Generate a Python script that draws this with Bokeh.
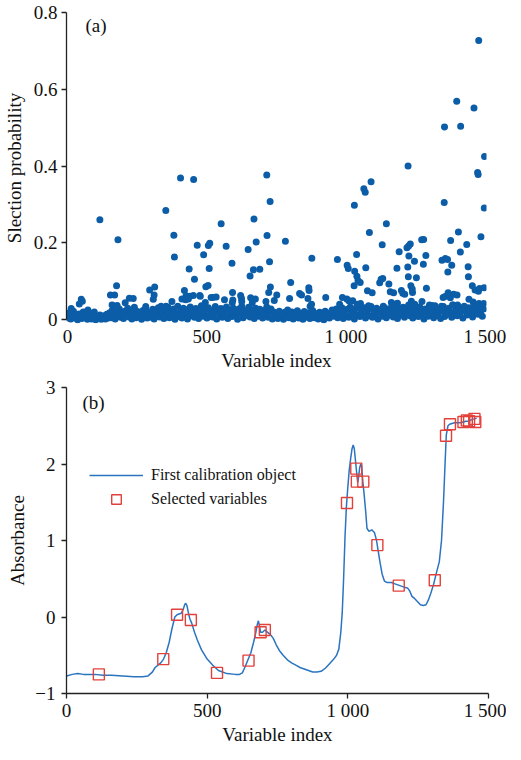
from bokeh.plotting import figure
from bokeh.layouts import column
from bokeh.models import FixedTicker, Range1d, Legend, LegendItem, Label, ColumnDataSource
from bokeh.embed import file_html
from bokeh.resources import INLINE

# ---------------- data: panel (a) ----------------
# clearly separated points (variable index, selection probability)
sel_idx = [13, 42, 49, 53, 73, 96, 116, 154, 169, 176, 160, 178, 181, 207, 222, 236, 240, 281,
           295, 313, 311, 308, 336, 354, 353,
           375, 382, 384, 406, 411, 420, 424, 426, 434, 437, 440, 453, 452, 456, 466, 475, 477,
           489, 495, 497, 505, 506, 509, 511, 516, 522, 534, 552, 564, 570, 591, 593, 594, 592,
           622, 625, 626, 649, 656, 658, 664, 668, 670, 675, 678, 691, 713, 716, 717, 723, 726,
           728, 729, 743, 752, 783,
           798, 802, 834, 841, 864, 867, 868, 872, 877, 878, 928, 970, 978, 988, 1004, 1005,
           1009, 1011, 1025, 1030, 1031, 1032, 1039, 1040, 1041, 1044, 1052, 1053, 1065, 1070,
           1072, 1078, 1082, 1085, 1091, 1095, 1122, 1127, 1131, 1133, 1135, 1146, 1155, 1160,
           1164, 1172, 1180, 1184, 1186, 1192,
           1200, 1205, 1212, 1220, 1224, 1226, 1223, 1225, 1227, 1232, 1234, 1236, 1239, 1240,
           1247, 1248, 1254, 1273, 1274, 1280, 1279, 1288, 1290, 1301, 1310, 1344, 1346, 1350,
           1354, 1355, 1357, 1358, 1366, 1367, 1368, 1376, 1377, 1381, 1384, 1388, 1399, 1400,
           1402, 1405, 1412, 1413, 1435, 1440, 1441, 1443, 1455, 1458, 1461, 1465, 1474, 1476,
           1477, 1479, 1478, 1481, 1486, 1497, 1498, 1499, 1496]
sel_prob = [0.029, 0.041, 0.053, 0.048, 0.025, 0.020, 0.260, 0.064, 0.064, 0.088, 0.038, 0.037, 0.208,
            0.044, 0.056, 0.055, 0.032, 0.034,
            0.077, 0.085, 0.064, 0.053, 0.035, 0.035, 0.284,
            0.047, 0.220, 0.163, 0.369, 0.054, 0.076, 0.052, 0.062, 0.054, 0.132, 0.061, 0.365, 0.063,
            0.105, 0.194, 0.063, 0.061,
            0.169, 0.045, 0.086, 0.089, 0.193, 0.133, 0.199, 0.058, 0.058, 0.059, 0.250, 0.052, 0.191,
            0.147, 0.071, 0.051, 0.044,
            0.063, 0.056, 0.047, 0.183, 0.114, 0.057, 0.044, 0.130, 0.262, 0.054, 0.202, 0.131, 0.047,
            0.377, 0.219, 0.071, 0.151,
            0.308, 0.085, 0.050, 0.064, 0.204,
            0.055, 0.097, 0.068, 0.064, 0.055, 0.083, 0.076, 0.035, 0.040, 0.160, 0.058, 0.157, 0.040,
            0.058, 0.054, 0.142,
            0.133, 0.049, 0.049, 0.088, 0.298, 0.126, 0.170, 0.113, 0.040, 0.102, 0.097, 0.042, 0.341,
            0.332,
            0.135, 0.075, 0.036, 0.227, 0.359, 0.070, 0.096, 0.105, 0.195, 0.107, 0.035, 0.250, 0.093,
            0.073,
            0.045, 0.070, 0.041, 0.134, 0.043, 0.177,
            0.076, 0.069, 0.066, 0.187, 0.400, 0.192, 0.137, 0.112, 0.166, 0.197, 0.088, 0.048, 0.080,
            0.071,
            0.152, 0.040, 0.109, 0.208, 0.047, 0.209, 0.144, 0.167, 0.082, 0.038, 0.037, 0.035, 0.155,
            0.058,
            0.305, 0.502, 0.060, 0.159, 0.157, 0.124, 0.070, 0.057, 0.206, 0.142, 0.038, 0.066, 0.569,
            0.064,
            0.038, 0.228, 0.176, 0.504, 0.196, 0.138, 0.112, 0.053, 0.088, 0.046, 0.551, 0.077, 0.383,
            0.378,
            0.074, 0.042, 0.727, 0.081, 0.216, 0.083, 0.291, 0.425, 0.042]

# dense low band (every 5th variable, probability in thousandths)
band_milli = [5, 18, 2, 10, 22, 4, 12, 0, 15, 8,
              3, 20, 6, 14, 1, 9, 17, 2, 11, 5,
              0, 8, 3, 12, 1, 6, 10, 2, 14, 4,
              18, 5, 25, 9, 2, 20, 13, 28, 6, 16,
              3, 22, 11, 30, 7, 17, 2, 26, 12, 5,
              21, 8, 15, 1, 24, 10, 29, 4, 18, 13,
              6, 27, 2, 19, 11, 31, 7, 23, 14, 3,
              25, 9, 32, 5, 20, 12, 28, 1, 16, 35,
              8, 22, 4, 30, 13, 26, 2, 19, 33, 10,
              24, 6, 29, 15, 3, 21, 36, 9, 17, 27,
              4, 31, 12, 23, 7, 18, 34, 2, 25, 14,
              29, 6, 20, 10, 33, 3, 26, 16, 8, 30,
              13, 22, 1, 28, 17, 35, 5, 24, 11, 19,
              32, 7, 26, 14, 3, 30, 21, 9, 27, 15,
              4, 24, 12, 33, 6, 18, 28, 2, 20, 11,
              16, 3, 22, 9, 14, 1, 19, 7, 25, 5,
              12, 20, 2, 15, 8, 23, 4, 17, 11, 1,
              21, 6, 13, 18, 3, 10, 24, 5, 16, 8,
              2, 19, 11, 14, 0, 22, 7, 17, 4, 12,
              25, 9, 18, 28, 5, 21, 14, 31, 3, 24,
              11, 27, 6, 33, 17, 22, 2, 29, 13, 36,
              8, 25, 15, 31, 4, 20, 28, 10, 34, 6,
              23, 14, 30, 2, 19, 26, 9, 33, 16, 5,
              28, 12, 21, 35, 7, 24, 17, 3, 30, 13,
              20, 32, 6, 27, 15, 38, 10, 23, 4, 29,
              16, 25, 8, 33, 12, 21, 2, 28, 18, 9,
              31, 14, 24, 5, 36, 19, 11, 27, 3, 22,
              34, 8, 26, 15, 30, 20, 6, 38, 13, 25,
              10, 33, 18, 28, 4, 35, 22, 12, 31, 16,
              26, 7, 37, 20, 30, 14, 34, 24, 9, 28]
band_idx = list(range(1, 1500, 5))
band_prob = [m / 1000 for m in band_milli]

# ---------------- data: panel (b) ----------------
spec_idx = [1, 20, 40, 60, 80, 100, 130, 160, 200, 240, 270, 290, 305, 315, 325, 335, 345, 355,
            365, 375, 385, 393, 400, 408, 415, 420, 424, 428, 433, 438, 445, 455, 465, 480, 500,
            520, 540, 570, 600, 615, 625, 635, 645, 655, 665, 672, 678, 682, 686, 690, 697, 705,
            715, 725, 735, 745, 757, 770, 785, 800, 815, 830, 845, 860, 875, 890, 905, 920, 935,
            950, 960, 968, 975, 980, 985, 990, 995, 1000, 1005, 1010, 1015, 1019, 1023, 1027,
            1031, 1035, 1038, 1042, 1046, 1049, 1053, 1058, 1063, 1068, 1075, 1085, 1095, 1102,
            1108, 1115, 1122, 1130, 1140, 1155, 1170, 1185, 1200, 1212, 1220, 1228, 1238, 1248,
            1258, 1268, 1278, 1286, 1295, 1305, 1315, 1325, 1333, 1340, 1345, 1350, 1356, 1362,
            1370, 1380, 1390, 1400, 1410, 1420, 1430, 1440, 1450, 1458]
spec_abs = [-0.77, -0.75, -0.74, -0.75, -0.75, -0.75, -0.76, -0.76, -0.77, -0.78, -0.78, -0.77,
            -0.72, -0.66, -0.63, -0.60, -0.55, -0.46, -0.33, -0.15, 0.00, 0.03, 0.04, 0.05, 0.10,
            0.16, 0.18, 0.15, 0.06, -0.02, -0.08, -0.20, -0.30, -0.43, -0.55, -0.63, -0.70, -0.74,
            -0.75, -0.75, -0.73, -0.65, -0.56, -0.47, -0.33, -0.22, -0.10, -0.05, -0.12, -0.20,
            -0.20, -0.17, -0.20, -0.23, -0.28, -0.36, -0.44, -0.50, -0.56, -0.60, -0.63, -0.66,
            -0.68, -0.70, -0.72, -0.72, -0.71, -0.67, -0.61, -0.55, -0.50, -0.42, -0.20, 0.05,
            0.50, 1.05, 1.45, 1.70, 1.92, 2.07, 2.20, 2.25, 2.20, 2.05, 1.90, 1.76, 1.82, 1.95,
            2.00, 1.98, 1.78, 1.60, 1.40, 1.16, 1.12, 1.14, 1.10, 1.00, 0.86, 0.70, 0.56, 0.47,
            0.45, 0.45, 0.43, 0.41, 0.39, 0.38, 0.34, 0.27, 0.24, 0.20, 0.16, 0.15, 0.16, 0.22,
            0.31, 0.43, 0.58, 0.72, 1.00, 1.50, 1.95, 2.38, 2.50, 2.52, 2.53, 2.54, 2.54, 2.54,
            2.55, 2.56, 2.56, 2.58, 2.59, 2.60]

chosen_idx = [115, 344, 393, 442, 535, 647, 690, 705, 997, 1030, 1032, 1055, 1105, 1181, 1309,
              1349, 1363, 1411, 1423, 1431, 1450, 1453]
chosen_abs = [-0.75, -0.55, 0.03, -0.04, -0.73, -0.57, -0.20, -0.17, 1.49, 1.94, 1.77, 1.77, 0.94,
              0.41, 0.48, 2.37, 2.52, 2.55, 2.57, 2.56, 2.59, 2.55]

x_ticks = [0, 500, 1000, 1500]
x_tick_text = {0: "0", 500: "500", 1000: "1 000", 1500: "1 500"}
a_ticks = [0, 0.2, 0.4, 0.6, 0.8]
a_tick_text = {0: "0", 0.2: "0.2", 0.4: "0.4", 0.6: "0.6", 0.8: "0.8"}
b_ticks = [-1, 0, 1, 2, 3]

FONT = "Liberation Serif"
TXT = "#111111"
DOT = "#0c5da8"
LINE = "#2a74c0"
SQ = "#e2413b"


def style_axes(p):
    for ax in (p.xaxis[0], p.yaxis[0]):
        ax.major_label_text_font = FONT
        ax.major_label_text_font_size = "19px"
        ax.major_label_text_color = TXT
        ax.axis_label_text_font = FONT
        ax.axis_label_text_font_size = "19px"
        ax.axis_label_text_font_style = "normal"
        ax.axis_label_text_color = TXT
        ax.axis_line_color = "#222222"
        ax.axis_line_width = 1.3
        ax.major_tick_line_color = "#222222"
        ax.major_tick_line_width = 1.3
        ax.major_tick_in = 0
        ax.major_tick_out = 5
        ax.minor_tick_line_color = None
    p.xgrid.grid_line_color = None
    p.ygrid.grid_line_color = None
    p.outline_line_color = None
    p.background_fill_color = "white"
    p.border_fill_color = "white"


# ---------------- panel (a) ----------------
p1 = figure(frame_width=420, frame_height=311, x_range=Range1d(-4, 1506),
            y_range=Range1d(-0.01, 0.8), output_backend="svg", toolbar_location=None,
            min_border_left=63, min_border_right=21, min_border_top=12, min_border_bottom=40)
style_axes(p1)
p1.xaxis.axis_label = "Variable index"
p1.yaxis.axis_label = "Slection probability"
p1.xaxis.ticker = FixedTicker(ticks=x_ticks)
p1.xaxis.major_label_overrides = x_tick_text
p1.xaxis.axis_line_color = None
p1.xaxis.major_tick_line_color = None
p1.xaxis.major_tick_out = 0
p1.xaxis.major_label_standoff = 2
p1.xaxis.axis_label_standoff = 0
p1.yaxis.ticker = FixedTicker(ticks=a_ticks)
p1.yaxis.major_label_overrides = a_tick_text
p1.yaxis.bounds = (0, 0.8)
p1.yaxis.major_label_standoff = 4
p1.yaxis.axis_label_standoff = 6

p1.scatter(band_idx, band_prob, size=7, fill_color=DOT, line_color=None)
p1.scatter(sel_idx, sel_prob, size=7, fill_color=DOT, line_color=None)
p1.add_layout(Label(x=64, y=0.765, text="(a)", text_font=FONT, text_font_size="19px",
                    text_color=TXT, text_baseline="middle", text_align="left"))

# ---------------- panel (b) ----------------
p2 = figure(frame_width=422, frame_height=306, x_range=Range1d(0, 1500),
            y_range=Range1d(-1, 3), output_backend="svg", toolbar_location=None,
            min_border_left=60, min_border_right=22, min_border_top=14, min_border_bottom=40)
style_axes(p2)
p2.xaxis.axis_label = "Variable index"
p2.yaxis.axis_label = "Absorbance"
p2.xaxis.ticker = FixedTicker(ticks=x_ticks)
p2.xaxis.major_label_overrides = x_tick_text
p2.xaxis.major_label_standoff = 1
p2.xaxis.axis_label_standoff = 0
p2.yaxis.ticker = FixedTicker(ticks=b_ticks)
p2.yaxis.major_label_standoff = 6
p2.yaxis.axis_label_standoff = 4

src_line = ColumnDataSource(dict(x=spec_idx, y=spec_abs))
src_sq = ColumnDataSource(dict(x=chosen_idx, y=chosen_abs))
r_line = p2.line("x", "y", source=src_line, line_color=LINE, line_width=1.5)
r_sq = p2.scatter("x", "y", source=src_sq, marker="square", size=11, fill_color=None,
                  line_color=SQ, line_width=1.4)
p2.add_layout(Label(x=57, y=2.81, text="(b)", text_font=FONT, text_font_size="19px",
                    text_color=TXT, text_baseline="middle", text_align="left"))

legend = Legend(items=[LegendItem(label="First calibration object", renderers=[r_line]),
                       LegendItem(label="Selected variables", renderers=[r_sq])],
                location=(23, 182), glyph_width=54, glyph_height=24, label_height=24,
                label_standoff=8, spacing=0, padding=0, margin=0,
                border_line_color=None, background_fill_alpha=0,
                label_text_font=FONT, label_text_font_size="16px", label_text_color=TXT)
p2.add_layout(legend)

layout = column(p1, p2, spacing=0)
open("out.html", "w").write(file_html(layout, INLINE))
